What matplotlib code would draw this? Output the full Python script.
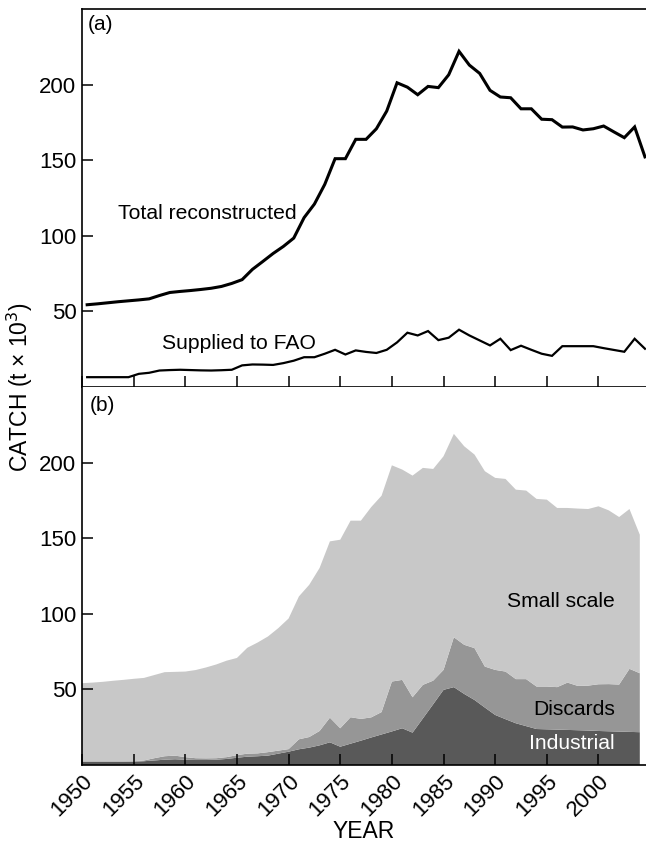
import numpy as np
import matplotlib
matplotlib.use("Agg")
import matplotlib.pyplot as plt

plt.rcParams['font.family'] = ['Liberation Sans', 'DejaVu Sans']

years = np.arange(1950, 2005)

total_reconstructed = [
    54.4, 55.0, 55.7, 56.4, 57.0, 57.6, 58.3, 60.5, 62.5, 63.2,
    63.8, 64.5, 65.3, 66.5, 68.5, 71.0, 77.8, 83.0, 88.3, 93.0,
    98.5, 112.0, 121.0, 134.0, 151.0, 151.0, 163.8, 163.8, 170.8, 182.5,
    201.2, 198.3, 193.3, 198.8, 198.0, 206.5, 222.0, 212.9, 207.4, 196.2,
    191.8, 191.3, 184.0, 184.0, 177.1, 176.8, 171.9, 172.0, 170.0, 170.8,
    172.6, 168.7, 164.9, 172.0, 152.2]

supplied_to_fao = [
    6.5, 6.5, 6.5, 6.5, 6.5, 8.7, 9.4, 10.9, 11.2, 11.4,
    11.2, 11.0, 10.9, 11.1, 11.4, 14.3, 14.9, 14.8, 14.6, 15.8,
    17.4, 19.7, 19.7, 22.0, 24.6, 21.5, 24.2, 23.2, 22.5, 24.6,
    29.5, 35.9, 34.1, 37.0, 31.0, 32.6, 37.9, 34.1, 30.8, 27.5,
    31.9, 24.4, 27.3, 24.6, 22.0, 20.6, 27.0, 27.0, 27.0, 27.0,
    25.7, 24.5, 23.3, 31.9, 25.3]

industrial = [
    2.2, 2.2, 2.2, 2.2, 2.2, 2.2, 2.5, 3.0, 3.5, 3.8,
    3.5, 3.3, 3.3, 3.5, 4.0, 4.8, 5.5, 5.8, 6.2, 7.5,
    8.8, 10.4, 11.5, 13.0, 15.0, 12.1, 14.1, 16.1, 18.2, 20.2,
    22.2, 24.3, 21.4, 30.8, 40.2, 49.7, 51.5, 47.0, 43.0, 38.0,
    33.1, 30.3, 27.6, 25.7, 23.8, 23.6, 23.4, 23.2, 23.0, 22.8,
    22.5, 22.3, 22.1, 21.9, 21.7]

discards = [
    0.2, 0.2, 0.2, 0.2, 0.2, 0.3, 0.5, 1.5, 2.3, 2.4,
    1.7, 1.2, 1.1, 1.0, 1.2, 1.7, 2.0, 1.9, 2.3, 2.0,
    1.7, 6.6, 7.0, 9.5, 16.3, 12.2, 17.5, 14.4, 13.3, 14.8,
    33.0, 32.0, 23.4, 22.2, 15.6, 13.2, 33.0, 32.5, 34.3, 27.1,
    29.8, 31.5, 29.2, 31.1, 28.1, 28.3, 28.1, 31.3, 29.3, 29.7,
    30.9, 31.2, 31.1, 41.7, 39.0]

small_scale = [
    51.7, 52.1, 52.6, 53.3, 53.9, 54.5, 54.6, 55.0, 55.6, 55.4,
    56.6, 58.3, 60.1, 62.0, 63.8, 64.3, 70.0, 73.3, 76.5, 81.0,
    86.4, 94.5, 100.7, 107.8, 116.6, 124.7, 130.0, 131.1, 139.1, 143.1,
    143.0, 139.1, 146.6, 143.5, 140.0, 141.3, 134.5, 131.3, 128.0, 129.2,
    127.0, 127.4, 125.3, 124.7, 124.1, 123.6, 118.5, 115.5, 117.3, 116.8,
    117.7, 114.9, 110.8, 105.7, 91.6]

xticks = list(range(1950, 2001, 5))
yticks = [50, 100, 150, 200]

TOP_SHIFT = 0.5  # top-panel series are drawn at mid-year

W, H = 646, 844
fig = plt.figure(figsize=(W / 100, H / 100), dpi=100)
left = 82 / W
width = 1.0 - left
ax1 = fig.add_axes([left, 1 - 387 / H, width, (387 - 9) / H])
ax2 = fig.add_axes([left, 1 - 765 / H, width, (765 - 387) / H])

for ax in (ax1, ax2):
    ax.set_xlim(1950, 2004.6)
    ax.set_ylim(0, 250)
    ax.set_xticks(xticks)
    ax.set_yticks(yticks)
    ax.tick_params(direction='in', length=8, width=1.1, labelsize=16,
                   pad=4, colors='black')
    ax.spines['right'].set_visible(False)
    for s in ('left', 'bottom', 'top'):
        ax.spines[s].set_linewidth(1.2)

ax2.spines['top'].set_visible(False)
ax1.tick_params(axis='x', labelbottom=False)

# Panel (a)
ax1.plot(years + TOP_SHIFT, total_reconstructed, color='black', lw=2.2,
         solid_joinstyle='miter')
ax1.plot(years + TOP_SHIFT, supplied_to_fao, color='black', lw=1.6,
         solid_joinstyle='miter')
ax1.text(1953.5, 115, 'Total reconstructed', fontsize=15.2, va='center', ha='left')
ax1.text(1957.7, 29, 'Supplied to FAO', fontsize=15.2, va='center', ha='left')
ax1.text(0.011, 0.958, '(a)', transform=ax1.transAxes, fontsize=15,
         va='center', ha='left')

# Panel (b)
ax2.stackplot(years, industrial, discards, small_scale,
              colors=['#595959', '#969696', '#c8c8c8'], lw=0)
ax2.text(2001.6, 108, 'Small scale', fontsize=15.2, va='center', ha='right')
ax2.text(2001.6, 36.5, 'Discards', fontsize=15.2, va='center', ha='right')
ax2.text(2001.6, 14.5, 'Industrial', fontsize=15.2, va='center', ha='right',
         color='white')
ax2.text(0.014, 0.95, '(b)', transform=ax2.transAxes, fontsize=15,
         va='center', ha='left')

for lab in ax2.get_xticklabels():
    lab.set_rotation(45)
    lab.set_ha('right')
    lab.set_va('top')
    lab.set_rotation_mode('anchor')

ax2.set_xlabel('YEAR', fontsize=16.5, labelpad=0)
fig.text(20 / W, 1 - 387 / H, 'CATCH (t × 10$^{3}$)', rotation=90,
         fontsize=16.5, va='center', ha='center')

fig.savefig('out.png', dpi=100)
